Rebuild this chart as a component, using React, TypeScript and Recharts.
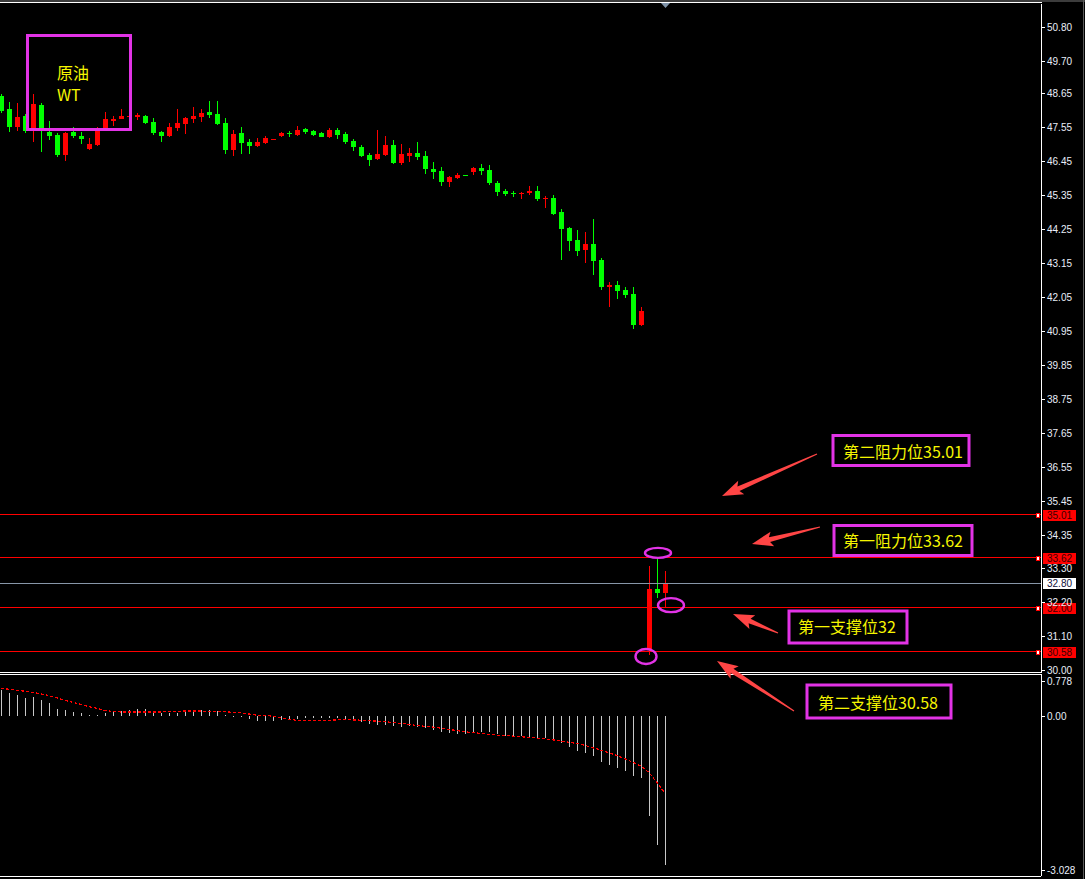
import { ComposedChart, Bar, Line, XAxis, YAxis, ReferenceLine, ReferenceDot } from 'recharts';

// WTI crude daily candles + MACD sub window (MT4 style, black background)
const opens = [
  48.58, 48.15, 47.57, 47.92, 47.52, 48.28, 47.41, 47.30, 46.66, 47.41,
  47.28, 46.85, 46.98, 47.47, 47.77, 47.82, 47.91, 47.90, 47.92, 47.74,
  47.41, 47.27, 47.53, 47.67, 47.82, 47.90, 48.04, 47.98, 47.70, 46.82,
  47.38, 47.08, 46.96, 47.05, 47.16, 47.28, 47.36, 47.30, 47.50, 47.43,
  47.38, 47.25, 47.47, 47.34, 47.11, 46.92, 46.66, 46.53, 46.66, 46.98,
  46.40, 46.63, 46.72, 46.63, 46.20, 46.14, 45.78, 45.91, 46.01, 46.11,
  46.24, 46.17, 45.75, 45.49, 45.43, 45.42, 45.43, 45.49, 45.26, 45.27,
  44.81, 44.29, 43.91, 43.58, 43.78, 43.26, 42.39, 42.45, 42.29, 42.16,
  41.16, 30.64, 32.61, 32.48,
];
const highs = [
  48.62, 48.36, 48.33, 47.98, 48.63, 48.35, 47.76, 47.36, 47.40, 47.57,
  47.41, 47.20, 47.57, 48.04, 47.92, 48.15, 47.93, 48.01, 47.95, 47.85,
  47.44, 47.68, 48.15, 47.88, 48.20, 48.15, 48.41, 48.41, 47.85, 47.47,
  47.57, 47.17, 47.22, 47.27, 47.18, 47.41, 47.43, 47.60, 47.52, 47.47,
  47.41, 47.52, 47.52, 47.40, 47.17, 46.98, 46.71, 47.47, 47.27, 47.14,
  47.01, 46.88, 47.08, 46.79, 46.43, 46.27, 45.98, 46.07, 46.02, 46.27,
  46.37, 46.33, 45.82, 45.56, 45.49, 45.46, 45.65, 45.65, 45.33, 45.36,
  44.91, 44.33, 44.23, 44.17, 44.59, 43.32, 42.55, 42.58, 42.39, 42.39,
  41.74, 33.36, 33.62, 33.19,
];
const lows = [
  48.01, 47.41, 47.43, 47.38, 47.09, 46.76, 47.14, 46.60, 46.46, 47.20,
  47.01, 46.83, 46.96, 47.45, 47.61, 47.81, 47.90, 47.79, 47.66, 47.30,
  47.09, 47.23, 47.44, 47.34, 47.70, 47.74, 47.86, 47.63, 46.69, 46.64,
  46.69, 46.69, 46.93, 47.01, 47.15, 47.23, 47.23, 47.27, 47.33, 47.27,
  47.23, 47.20, 47.18, 47.01, 46.79, 46.59, 46.30, 46.50, 46.63, 46.38,
  46.33, 46.43, 46.50, 46.04, 45.88, 45.65, 45.62, 45.88, 45.98, 46.01,
  46.01, 45.69, 45.33, 45.33, 45.30, 45.23, 45.36, 45.17, 44.94, 44.73,
  43.26, 43.55, 43.39, 43.16, 42.77, 42.29, 41.74, 42.00, 42.03, 41.03,
  41.12, 30.48, 32.32, 32.03,
];
const closes = [
  48.08, 47.57, 47.89, 47.45, 48.31, 47.49, 47.28, 46.66, 47.38, 47.28,
  47.18, 47.01, 47.52, 47.82, 47.83, 47.92, 47.92, 47.96, 47.68, 47.38,
  47.27, 47.57, 47.70, 47.86, 47.93, 48.03, 47.96, 47.66, 46.82, 47.34,
  47.06, 46.96, 47.09, 47.20, 47.17, 47.37, 47.34, 47.47, 47.41, 47.30,
  47.25, 47.47, 47.30, 47.08, 46.92, 46.63, 46.50, 46.69, 46.98, 46.40,
  46.69, 46.72, 46.59, 46.20, 46.11, 45.78, 45.95, 46.01, 45.99, 46.24,
  46.14, 45.75, 45.46, 45.40, 45.42, 45.43, 45.49, 45.23, 45.27, 44.75,
  44.26, 43.87, 43.55, 43.78, 43.23, 42.39, 42.45, 42.26, 42.13, 41.16,
  41.61, 32.61, 32.48, 32.80,
];

const macdHist = [
  0.486, 0.43, 0.39, 0.335, 0.354, 0.297, 0.24, 0.126, 0.107, 0.069,
  0.05, 0.013, 0.013, 0.05, 0.088, 0.088, 0.107, 0.126, 0.126, 0.088,
  0.05, 0.05, 0.05, 0.069, 0.088, 0.107, 0.107, 0.088, 0.013, 0.004,
  -0.019, -0.063, -0.095, -0.095, -0.095, -0.076, -0.076, -0.063, -0.044, -0.044,
  -0.044, -0.044, -0.044, -0.063, -0.076, -0.114, -0.152, -0.17, -0.17, -0.19,
  -0.208, -0.19, -0.208, -0.227, -0.265, -0.303, -0.322, -0.341, -0.341, -0.322,
  -0.303, -0.303, -0.341, -0.379, -0.398, -0.379, -0.398, -0.417, -0.417, -0.455,
  -0.511, -0.587, -0.663, -0.70, -0.758, -0.871, -0.928, -0.985, -1.04, -1.136,
  -1.174, -1.894, -2.443, -2.822,
];
const macdSignal = [
  0.518, 0.51, 0.49, 0.47, 0.45, 0.42, 0.39, 0.345, 0.30, 0.26,
  0.22, 0.18, 0.145, 0.11, 0.085, 0.078, 0.076, 0.076, 0.076, 0.076,
  0.078, 0.085, 0.092, 0.095, 0.095, 0.095, 0.093, 0.09, 0.082, 0.072,
  0.06, 0.04, 0.018, 0.008, 0.0, -0.03, -0.062, -0.08, -0.088, -0.09,
  -0.088, -0.08, -0.072, -0.07, -0.072, -0.078, -0.086, -0.096, -0.107, -0.122,
  -0.139, -0.158, -0.177, -0.193, -0.208, -0.23, -0.253, -0.275, -0.297, -0.312,
  -0.328, -0.345, -0.36, -0.37, -0.379, -0.39, -0.404, -0.417, -0.43, -0.45,
  -0.473, -0.495, -0.518, -0.555, -0.60, -0.645, -0.694, -0.75, -0.808, -0.875,
  -0.947, -1.07, -1.26, -1.465,
];

const priceTicks = [
  50.8, 49.7, 48.65, 47.55, 46.45, 45.35, 44.25, 43.15, 42.05, 40.95,
  39.85, 38.75, 37.65, 36.55, 35.45, 34.35, 33.3, 32.2, 31.1, 30.0,
];
const macdTicks = [0.778, 0, -3.028];
const levels = [35.01, 33.62, 32.0, 30.58];
const lastPrice = 32.8;

// circled candles
const ringX = [82, 84, 81];
const ringY = [33.78, 32.09, 30.43];

const SLOTS = 130;
const PRICE_DOMAIN = [29.926, 51.544];
const UP = '#ff0000';
const DOWN = '#00ff00';
const MAGENTA = '#e233e6';
const YELLOW = '#f6f600';
const ARROW = '#ff4545';
const AXIS_TEXT = '#e8eef8';
const FONT = '"Liberation Sans", Arial, sans-serif';
const CJK = '"Noto Sans CJK SC", "Noto Sans", sans-serif';

const ringStyle = [
  { dx: 1, rx: 13, ry: 5 },
  { dx: -2, rx: 13, ry: 7 },
  { dx: -3, rx: 10.5, ry: 7.5 },
];

const rows = Array.from({ length: SLOTS }, (_, i) =>
  i < opens.length
    ? { i, open: opens[i], high: highs[i], low: lows[i], close: closes[i], hist: macdHist[i], signal: macdSignal[i] }
    : { i }
);

const Candle = (props: any) => {
  const { x, y, width, height, payload } = props;
  if (!payload || payload.open == null) return null;
  const { open, high, low, close } = payload;
  const span = high - low || 1;
  const py = (v: number) => Math.round(y + ((high - v) / span) * height);
  const cx = Math.round(x + width / 2);
  const color = close >= open ? UP : DOWN;
  const top = py(Math.max(open, close));
  const bot = py(Math.min(open, close));
  return (
    <g>
      <rect x={cx} y={py(high)} width={1} height={Math.max(1, py(low) - py(high))} fill={color} />
      <rect x={cx - 2} y={top} width={5} height={Math.max(1, bot - top)} fill={color} />
    </g>
  );
};

const HistBar = (props: any) => {
  const { x, y, width, height, payload } = props;
  if (!payload || payload.hist == null) return null;
  const cx = Math.round(x + width / 2);
  const top = Math.round(Math.min(y, y + height));
  const h = Math.max(1, Math.round(Math.abs(height)));
  return <rect x={cx} y={top} width={1} height={h} fill="#c8c8c8" />;
};

const PriceTick = (props: any) => {
  const { x, y, payload } = props;
  return (
    <g>
      <rect x={x - 6} y={Math.round(y)} width={4} height={1} fill="#fff" />
      <text x={x} y={y} dy={4} fill={AXIS_TEXT} fontSize={10} fontFamily={FONT}>
        {Number(payload.value).toFixed(2)}
      </text>
    </g>
  );
};

const MacdTick = (props: any) => {
  const { x, y, payload } = props;
  const v = Number(payload.value);
  const top = Math.max(...macdTicks);
  const bottom = Math.min(...macdTicks);
  const yy = v === top ? y + 6 : v === bottom ? y - 6 : y;
  return (
    <g>
      <rect x={x - 6} y={Math.round(yy)} width={4} height={1} fill="#fff" />
      <text x={x} y={yy} dy={4} fill={AXIS_TEXT} fontSize={10} fontFamily={FONT}>
        {v === 0 ? '0.00' : v.toFixed(3)}
      </text>
    </g>
  );
};

const levelTag = (price: number, box: string, ink: string, marker: boolean) => (p: any) => {
  const vb = p.viewBox;
  if (!vb) return null;
  const right = vb.x + vb.width;
  const y = Math.round(vb.y);
  return (
    <g>
      {marker && <rect x={right - 4.5} y={y - 2} width={3} height={4} fill="#fff" stroke={UP} strokeWidth={1} />}
      <rect x={right + 2} y={y - 5} width={33} height={11} fill={box} />
      <text x={right + 6} y={y + 4} fill={ink} fontSize={10} fontFamily={FONT}>
        {price.toFixed(2)}
      </text>
    </g>
  );
};

const notes = [
  { box: [27.5, 35.5, 103, 94], lines: [{ t: '原油', x: 57, y: 72 }, { t: 'WT', x: 57, y: 94 }] },
  { box: [833, 435.5, 136, 30], lines: [{ t: '第二阻力位35.01', x: 843, y: 451 }] },
  { box: [834, 525.5, 138, 30], lines: [{ t: '第一阻力位33.62', x: 843, y: 540 }] },
  { box: [789, 611, 118, 32], lines: [{ t: '第一支撑位32', x: 798, y: 626 }] },
  { box: [807, 685, 144, 33], lines: [{ t: '第二支撑位30.58', x: 818, y: 702 }] },
];

const arrows = [
  { tip: [722, 496], tail: [817, 454] },
  { tip: [752, 544], tail: [820, 527] },
  { tip: [733, 614], tail: [778, 633] },
  { tip: [717, 661], tail: [794, 711] },
];

const arrowPoints = (tip: number[], tail: number[]) => {
  const [tx, ty] = tip;
  const [sx, sy] = tail;
  const len = Math.hypot(tx - sx, ty - sy);
  const ux = (tx - sx) / len;
  const uy = (ty - sy) / len;
  const nx = -uy;
  const ny = ux;
  const hl = 18;
  const hw = 7.5;
  const neck = 2.5;
  const bx = tx - ux * hl;
  const by = ty - uy * hl;
  const wx = tx - ux * (hl + 3);
  const wy = ty - uy * (hl + 3);
  const pts = [
    [sx + nx * 0.6, sy + ny * 0.6],
    [bx + nx * neck, by + ny * neck],
    [wx + nx * hw, wy + ny * hw],
    [tx, ty],
    [wx - nx * hw, wy - ny * hw],
    [bx - nx * neck, by - ny * neck],
    [sx - nx * 0.6, sy - ny * 0.6],
  ];
  return pts.map((p) => p.join(',')).join(' ');
};

export default function App() {
  return (
    <div style={{ position: 'absolute', left: 0, top: 0, width: 1085, height: 879, background: '#000', overflow: 'hidden' }}>
      <div style={{ position: 'absolute', left: 0, top: 672, shapeRendering: 'crispEdges' }}>
        <ComposedChart width={1085} height={207} data={rows} margin={{ top: 3, right: 0, bottom: 0, left: -3 }}>
          <XAxis
            dataKey="i"
            type="category"
            height={3}
            padding={{ left: 0, right: 4 }}
            ticks={rows.filter((r) => r.i % 8 === 0).map((r) => r.i)}
            interval={0}
            tick={false}
            tickSize={3}
            tickLine={{ stroke: '#fff' }}
            axisLine={{ stroke: '#fff' }}
          />
          <YAxis
            orientation="right"
            width={44}
            type="number"
            domain={[-3.028, 0.778]}
            allowDataOverflow
            ticks={macdTicks}
            interval={0}
            tickSize={4}
            tickMargin={2}
            tickLine={false}
            axisLine={{ stroke: '#fff' }}
            tick={<MacdTick />}
          />
          <Bar dataKey="hist" shape={<HistBar />} isAnimationActive={false} />
          <Line
            dataKey="signal"
            type="linear"
            stroke="#ff0000"
            strokeWidth={1.2}
            strokeDasharray="3 2"
            dot={false}
            activeDot={false}
            isAnimationActive={false}
          />
        </ComposedChart>
      </div>

      <div style={{ position: 'absolute', left: 0, top: 0, shapeRendering: 'crispEdges' }}>
        <ComposedChart width={1085} height={678} data={rows} margin={{ top: 4, right: 0, bottom: 6, left: -3 }}>
          <XAxis dataKey="i" type="category" hide padding={{ left: 0, right: 4 }} />
          <YAxis
            orientation="right"
            width={44}
            type="number"
            domain={PRICE_DOMAIN}
            allowDataOverflow
            ticks={priceTicks}
            interval={0}
            tickSize={4}
            tickMargin={2}
            tickLine={false}
            axisLine={{ stroke: '#fff' }}
            tick={<PriceTick />}
          />
          <Bar
            dataKey={(d: any) => (d.open == null ? null : [d.low, d.high])}
            shape={<Candle />}
            isAnimationActive={false}
          />
          <ReferenceLine y={lastPrice} stroke="#8796a8" label={levelTag(lastPrice, '#ffffff', '#10103a', false)} />
          {levels.map((v) => (
            <ReferenceLine key={v} y={v} stroke={UP} label={levelTag(v, UP, '#3a0000', true)} />
          ))}
          {ringX.map((x, k) => (
            <ReferenceDot
              key={k}
              x={x}
              y={ringY[k]}
              r={6}
              shape={(p: any) => (
                <ellipse
                  cx={p.cx + ringStyle[k].dx}
                  cy={p.cy}
                  rx={ringStyle[k].rx}
                  ry={ringStyle[k].ry}
                  fill="none"
                  stroke={MAGENTA}
                  strokeWidth={2.4}
                  shapeRendering="geometricPrecision"
                />
              )}
            />
          ))}
        </ComposedChart>
      </div>

      <svg width={1085} height={879} style={{ position: 'absolute', left: 0, top: 0, pointerEvents: 'none' }}>
        <g shapeRendering="crispEdges">
          <rect x={0} y={0} width={1085} height={2} fill="#3c3c3c" />
          <rect x={0} y={2} width={1042} height={1} fill="#ffffff" />
          <rect x={0} y={672} width={1042} height={1} fill="#ffffff" />
          <rect x={0} y={674} width={1042} height={1} fill="#ffffff" />
          <rect x={1083} y={0} width={1} height={879} fill="#5a5a5a" />
        </g>
        <polygon points="661,3 670,3 665.5,8" fill="#7f93a8" />
        {arrows.map((a, k) => (
          <polygon key={k} points={arrowPoints(a.tip, a.tail)} fill={ARROW} />
        ))}
        {notes.map((n, k) => (
          <g key={k}>
            <rect x={n.box[0]} y={n.box[1]} width={n.box[2]} height={n.box[3]} fill="none" stroke={MAGENTA} strokeWidth={3} />
            {n.lines.map((l, j) => (
              <text key={j} x={l.x} y={l.y} dominantBaseline="central" fill={YELLOW} fontSize={16} fontFamily={CJK}>
                {l.t}
              </text>
            ))}
          </g>
        ))}
      </svg>
    </div>
  );
}
